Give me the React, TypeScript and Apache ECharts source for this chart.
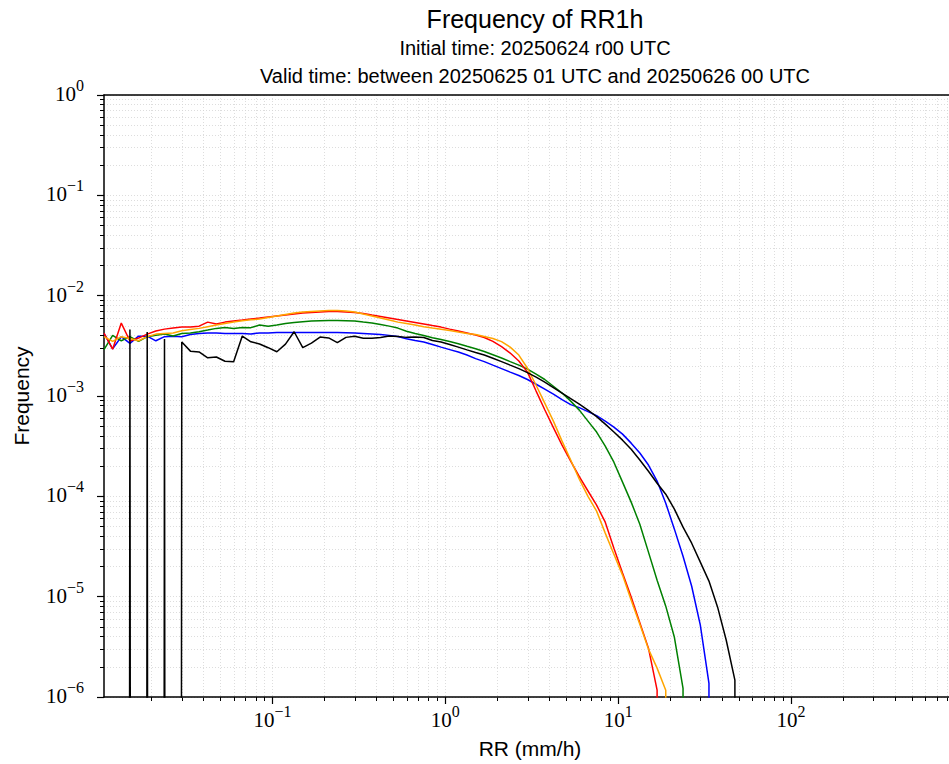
import React, { useEffect, useRef } from "react";
import * as echarts from "echarts";

const TITLE = "Frequency of RR1h";
const SUBTITLE_1 = "Initial time: 20250624 r00 UTC";
const SUBTITLE_2 = "Valid time: between 20250625 01 UTC and 20250626 00 UTC";
const X_NAME = "RR (mm/h)";
const Y_NAME = "Frequency";

// bin centres (mm/h), log-spaced
const RR_BINS = [
  0.010593, 0.011885, 0.013335, 0.014962, 0.016788, 0.018836, 0.021135, 0.023714, 0.026607, 0.029854,
  0.033497, 0.037584, 0.04217, 0.047315, 0.053088, 0.059566, 0.066834, 0.074989, 0.08414, 0.094406,
  0.10593, 0.11885, 0.13335, 0.14962, 0.16788, 0.18836, 0.21135, 0.23714, 0.26607, 0.29854,
  0.33497, 0.37584, 0.4217, 0.47315, 0.53088, 0.59566, 0.66834, 0.74989, 0.8414, 0.94406,
  1.0593, 1.1885, 1.3335, 1.4962, 1.6788, 1.8836, 2.1135, 2.3714, 2.6607, 2.9854,
  3.3497, 3.7584, 4.217, 4.7315, 5.3088, 5.9566, 6.6834, 7.4989, 8.414, 9.4406,
  10.593, 11.885, 13.335, 14.962, 16.788, 18.836, 21.135, 23.714, 26.607, 29.854,
  33.497, 37.584, 42.17, 47.315, 53.088,
];

const FREQ_BLACK = [
  0, 0, 0, 4.6e-3, 0, 4.34e-3, 0, 3.7e-3, 0, 3.45e-3,
  2.8e-3, 2.75e-3, 2.4e-3, 2.45e-3, 2.22e-3, 2.2e-3, 3.96e-3, 3.47e-3, 3.3e-3, 3.03e-3,
  2.76e-3, 3.29e-3, 4.37e-3, 3.03e-3, 3.37e-3, 3.87e-3, 3.79e-3, 3.41e-3, 3.84e-3, 3.94e-3,
  3.76e-3, 3.76e-3, 3.83e-3, 3.96e-3, 3.91e-3, 3.84e-3, 3.87e-3, 3.83e-3, 3.57e-3, 3.45e-3,
  3.26e-3, 3.07e-3, 2.88e-3, 2.71e-3, 2.56e-3, 2.38e-3, 2.2e-3, 2.03e-3, 1.876e-3, 1.71e-3,
  1.54e-3, 1.376e-3, 1.213e-3, 1.069e-3, 9.42e-4, 8.3e-4, 7.23e-4, 6.23e-4, 5.25e-4, 4.37e-4,
  3.63e-4, 2.95e-4, 2.3e-4, 1.78e-4, 1.35e-4, 1.05e-4, 7.46e-5, 4.93e-5, 3.41e-5, 2.21e-5,
  1.43e-5, 7.86e-6, 3.68e-6, 1.47e-6, 0,
];

const FREQ_BLUE = [
  4.2e-3, 2.95e-3, 3.9e-3, 3.35e-3, 3.95e-3, 3.95e-3, 3.55e-3, 3.9e-3, 3.95e-3, 3.9e-3,
  4.1e-3, 4.2e-3, 4.25e-3, 4.25e-3, 4.2e-3, 4.2e-3, 4.2e-3, 4.15e-3, 4.25e-3, 4.25e-3,
  4.3e-3, 4.3e-3, 4.3e-3, 4.3e-3, 4.3e-3, 4.3e-3, 4.3e-3, 4.3e-3, 4.28e-3, 4.25e-3,
  4.2e-3, 4.15e-3, 4.1e-3, 4.02e-3, 3.92e-3, 3.72e-3, 3.57e-3, 3.45e-3, 3.26e-3, 3.07e-3,
  2.9e-3, 2.74e-3, 2.56e-3, 2.36e-3, 2.2e-3, 2.03e-3, 1.876e-3, 1.73e-3, 1.6e-3, 1.46e-3,
  1.31e-3, 1.17e-3, 1.045e-3, 9.2e-4, 8.21e-4, 7.66e-4, 6.99e-4, 6.38e-4, 5.62e-4, 4.9e-4,
  4.17e-4, 3.39e-4, 2.7e-4, 2.05e-4, 1.42e-4, 8.55e-5, 4.71e-5, 2.53e-5, 1.27e-5, 5.2e-6,
  1.37e-6, 0, 0, 0, 0,
];

const FREQ_GREEN = [
  2.9e-3, 4.03e-3, 3.55e-3, 3.9e-3, 3.5e-3, 3.9e-3, 4.03e-3, 4.14e-3, 3.96e-3, 4.2e-3,
  4.25e-3, 4.38e-3, 4.54e-3, 4.72e-3, 4.82e-3, 4.72e-3, 4.82e-3, 4.8e-3, 5.1e-3, 4.97e-3,
  5.09e-3, 5.27e-3, 5.39e-3, 5.51e-3, 5.58e-3, 5.62e-3, 5.64e-3, 5.64e-3, 5.62e-3, 5.58e-3,
  5.45e-3, 5.33e-3, 5.15e-3, 4.97e-3, 4.75e-3, 4.42e-3, 4.2e-3, 4.0e-3, 3.8e-3, 3.65e-3,
  3.5e-3, 3.32e-3, 3.13e-3, 2.96e-3, 2.78e-3, 2.58e-3, 2.39e-3, 2.2e-3, 2.03e-3, 1.85e-3,
  1.65e-3, 1.46e-3, 1.25e-3, 1.07e-3, 8.89e-4, 7.23e-4, 5.62e-4, 4.37e-4, 3.17e-4, 2.19e-4,
  1.385e-4, 8.76e-5, 5.28e-5, 2.78e-5, 1.46e-5, 8.04e-6, 3.94e-6, 1.22e-6, 0, 0,
  0, 0, 0, 0, 0,
];

const FREQ_RED = [
  4.24e-3, 2.93e-3, 5.33e-3, 3.53e-3, 3.78e-3, 4.14e-3, 4.44e-3, 4.64e-3, 4.75e-3, 4.86e-3,
  4.86e-3, 4.97e-3, 5.45e-3, 5.21e-3, 5.45e-3, 5.58e-3, 5.71e-3, 5.85e-3, 5.98e-3, 6.12e-3,
  6.26e-3, 6.4e-3, 6.55e-3, 6.71e-3, 6.78e-3, 6.86e-3, 6.94e-3, 6.94e-3, 6.86e-3, 6.78e-3,
  6.63e-3, 6.4e-3, 6.19e-3, 5.98e-3, 5.78e-3, 5.58e-3, 5.39e-3, 5.21e-3, 5.03e-3, 4.86e-3,
  4.64e-3, 4.44e-3, 4.24e-3, 4.05e-3, 3.83e-3, 3.5e-3, 3.1e-3, 2.68e-3, 2.23e-3, 1.73e-3,
  1.12e-3, 7.29e-4, 4.84e-4, 3.24e-4, 2.24e-4, 1.57e-4, 1.13e-4, 8.17e-5, 5.53e-5, 3.04e-5,
  1.72e-5, 9.9e-6, 5.5e-6, 3.07e-6, 1.17e-6, 0, 0, 0, 0, 0,
  0, 0, 0, 0, 0,
];

const FREQ_ORANGE = [
  3.9e-3, 3.5e-3, 3.9e-3, 3.75e-3, 3.55e-3, 3.9e-3, 4.14e-3, 4.2e-3, 4.25e-3, 4.46e-3,
  4.6e-3, 4.72e-3, 4.9e-3, 5.09e-3, 5.29e-3, 5.45e-3, 5.62e-3, 5.75e-3, 5.84e-3, 6.05e-3,
  6.26e-3, 6.48e-3, 6.71e-3, 6.86e-3, 6.94e-3, 7.02e-3, 7.1e-3, 7.1e-3, 7.02e-3, 6.86e-3,
  6.55e-3, 6.26e-3, 5.98e-3, 5.71e-3, 5.45e-3, 5.27e-3, 5.09e-3, 4.91e-3, 4.75e-3, 4.62e-3,
  4.49e-3, 4.34e-3, 4.2e-3, 4.1e-3, 3.92e-3, 3.74e-3, 3.48e-3, 3.07e-3, 2.56e-3, 1.89e-3,
  1.28e-3, 8.5e-4, 5.62e-4, 3.55e-4, 2.3e-4, 1.48e-4, 1.0e-4, 7.12e-5, 4.3e-5, 2.65e-5,
  1.64e-5, 9.23e-6, 5.32e-6, 3.0e-6, 1.94e-6, 1.17e-6, 0, 0, 0, 0,
  0, 0, 0, 0, 0,
];

const SERIES_NAMES = ["blue", "green", "red", "orange", "black"];
const SERIES_COLORS = ["#0000ff", "#008000", "#ff0000", "#ffa500", "#000000"];
const SERIES_DATA = [FREQ_BLUE, FREQ_GREEN, FREQ_RED, FREQ_ORANGE, FREQ_BLACK];

const X_MIN = 0.010593;
const X_MAX = 900;
const Y_MIN = 1e-6;
const Y_MAX = 1;
const X_MAJOR = [0.1, 1, 10, 100];
const Y_MAJOR = [1e-6, 1e-5, 1e-4, 1e-3, 1e-2, 1e-1, 1];
const MINOR_MULTIPLIERS = [2, 3, 4, 5, 6, 7, 8, 9];
const X_DECADES = [0.01, 0.1, 1, 10, 100];
const Y_DECADES = [1e-6, 1e-5, 1e-4, 1e-3, 1e-2, 1e-1];

// zero counts cannot sit on a log axis: clip them far below the frame (like matplotlib)
const LOG_CLIP = 1e-100;

const SERIF = "'Liberation Serif', 'DejaVu Serif', serif";
const SANS = "'Liberation Sans', 'DejaVu Sans', sans-serif";
const GRID_COLOR = "#d4d4d4";
const TITLE_X = 530;

function minorValues(decades: number[], lo: number, hi: number) {
  const out: number[] = [];
  decades.forEach((d) =>
    MINOR_MULTIPLIERS.forEach((m) => {
      const v = +(d * m).toPrecision(6);
      if (v >= lo && v <= hi) out.push(v);
    })
  );
  return out;
}

function powLabel(v: number) {
  const e = Math.round(Math.log10(v));
  const s = e < 0 ? "\u2212" + String(-e) : String(e);
  return "{b|10}{s|" + s + "}";
}

export default function App() {
  const ref = useRef<HTMLDivElement>(null);

  useEffect(() => {
    if (!ref.current) return;
    const chart = echarts.init(ref.current, undefined, { renderer: "svg" });

    const xMinor = minorValues(X_DECADES, X_MIN, X_MAX);
    const yMinor = minorValues(Y_DECADES, Y_MIN, Y_MAX);

    const splitLine = {
      show: true,
      lineStyle: { color: GRID_COLOR, width: 0.8, type: [1, 2] as any },
    };

    const labelRich = {
      b: { fontFamily: SERIF, fontSize: 21, color: "#000", lineHeight: 27, verticalAlign: "bottom" as const },
      s: { fontFamily: SERIF, fontSize: 16, color: "#000", lineHeight: 16, verticalAlign: "top" as const },
    };

    const frameAxis = (pos: string) => ({
      type: "log",
      logBase: 10,
      position: pos,
      axisLine: { show: true, onZero: false, lineStyle: { color: "#000", width: 1.5 } },
      axisTick: { show: false },
      axisLabel: { show: false },
      splitLine: { show: false },
      z: 4,
    });

    const option: any = {
      animation: false,
      backgroundColor: "#fff",
      title: [
        {
          text: TITLE,
          left: TITLE_X,
          top: 1,
          textAlign: "center",
          textStyle: { fontFamily: SANS, fontSize: 25, fontWeight: "normal", color: "#000" },
        },
        {
          text: SUBTITLE_1,
          left: TITLE_X,
          top: 33,
          textAlign: "center",
          textStyle: { fontFamily: SANS, fontSize: 20, fontWeight: "normal", color: "#000" },
        },
        {
          text: SUBTITLE_2,
          left: TITLE_X,
          top: 61,
          textAlign: "center",
          textStyle: { fontFamily: SANS, fontSize: 20, fontWeight: "normal", color: "#000" },
        },
      ],
      grid: {
        left: 104,
        right: -7,
        top: 95,
        bottom: 67,
        outerBoundsMode: "none",
        containLabel: false,
        show: false,
      },
      xAxis: [
        {
          type: "log",
          logBase: 10,
          min: X_MIN,
          max: X_MAX,
          position: "bottom",
          name: X_NAME,
          nameLocation: "middle",
          nameGap: 41,
          nameTextStyle: { fontFamily: SANS, fontSize: 21, color: "#000", verticalAlign: "top" },
          axisLine: { show: true, onZero: false, lineStyle: { color: "#000", width: 1.5 } },
          axisTick: { show: true, inside: false, length: 7, lineStyle: { color: "#000", width: 1.2 }, customValues: X_MAJOR },
          axisLabel: { show: true, margin: 6, customValues: X_MAJOR, formatter: powLabel, rich: labelRich },
          splitLine,
          z: 3,
        },
        {
          type: "log",
          logBase: 10,
          min: X_MIN,
          max: X_MAX,
          position: "bottom",
          axisLine: { show: false },
          axisTick: { show: true, inside: false, length: 4, lineStyle: { color: "#000", width: 1 }, customValues: xMinor },
          axisLabel: { show: false },
          splitLine,
        },
        { ...frameAxis("top"), min: X_MIN, max: X_MAX },
      ],
      yAxis: [
        {
          type: "log",
          logBase: 10,
          min: Y_MIN,
          max: Y_MAX,
          position: "left",
          name: Y_NAME,
          nameLocation: "middle",
          nameGap: 72,
          nameRotate: 90,
          nameTextStyle: { fontFamily: SANS, fontSize: 21, color: "#000" },
          axisLine: { show: true, onZero: false, lineStyle: { color: "#000", width: 1.5 } },
          axisTick: { show: true, inside: false, length: 7, lineStyle: { color: "#000", width: 1.2 }, customValues: Y_MAJOR },
          axisLabel: {
            show: true,
            margin: 20,
            customValues: Y_MAJOR,
            formatter: powLabel,
            rich: labelRich,
            padding: [0, 0, 8, 0],
          },
          splitLine,
          z: 3,
        },
        {
          type: "log",
          logBase: 10,
          min: Y_MIN,
          max: Y_MAX,
          position: "left",
          axisLine: { show: false },
          axisTick: { show: true, inside: false, length: 4, lineStyle: { color: "#000", width: 1 }, customValues: yMinor },
          axisLabel: { show: false },
          splitLine,
        },
        { ...frameAxis("right"), min: Y_MIN, max: Y_MAX },
      ],
      series: SERIES_DATA.map((vals, i) => ({
        name: SERIES_NAMES[i],
        type: "line",
        xAxisIndex: 0,
        yAxisIndex: 0,
        showSymbol: false,
        symbol: "none",
        clip: true,
        lineStyle: { color: SERIES_COLORS[i], width: 1.5 },
        itemStyle: { color: SERIES_COLORS[i] },
        data: RR_BINS.map((x, j) => [x, vals[j] > 0 ? vals[j] : LOG_CLIP]),
        z: 5 + i,
      })),
    };

    chart.setOption(option);
    return () => chart.dispose();
  }, []);

  return (
    <div
      ref={ref}
      style={{ position: "fixed", left: 0, top: 0, width: 949, height: 764, background: "#fff" }}
    />
  );
}
